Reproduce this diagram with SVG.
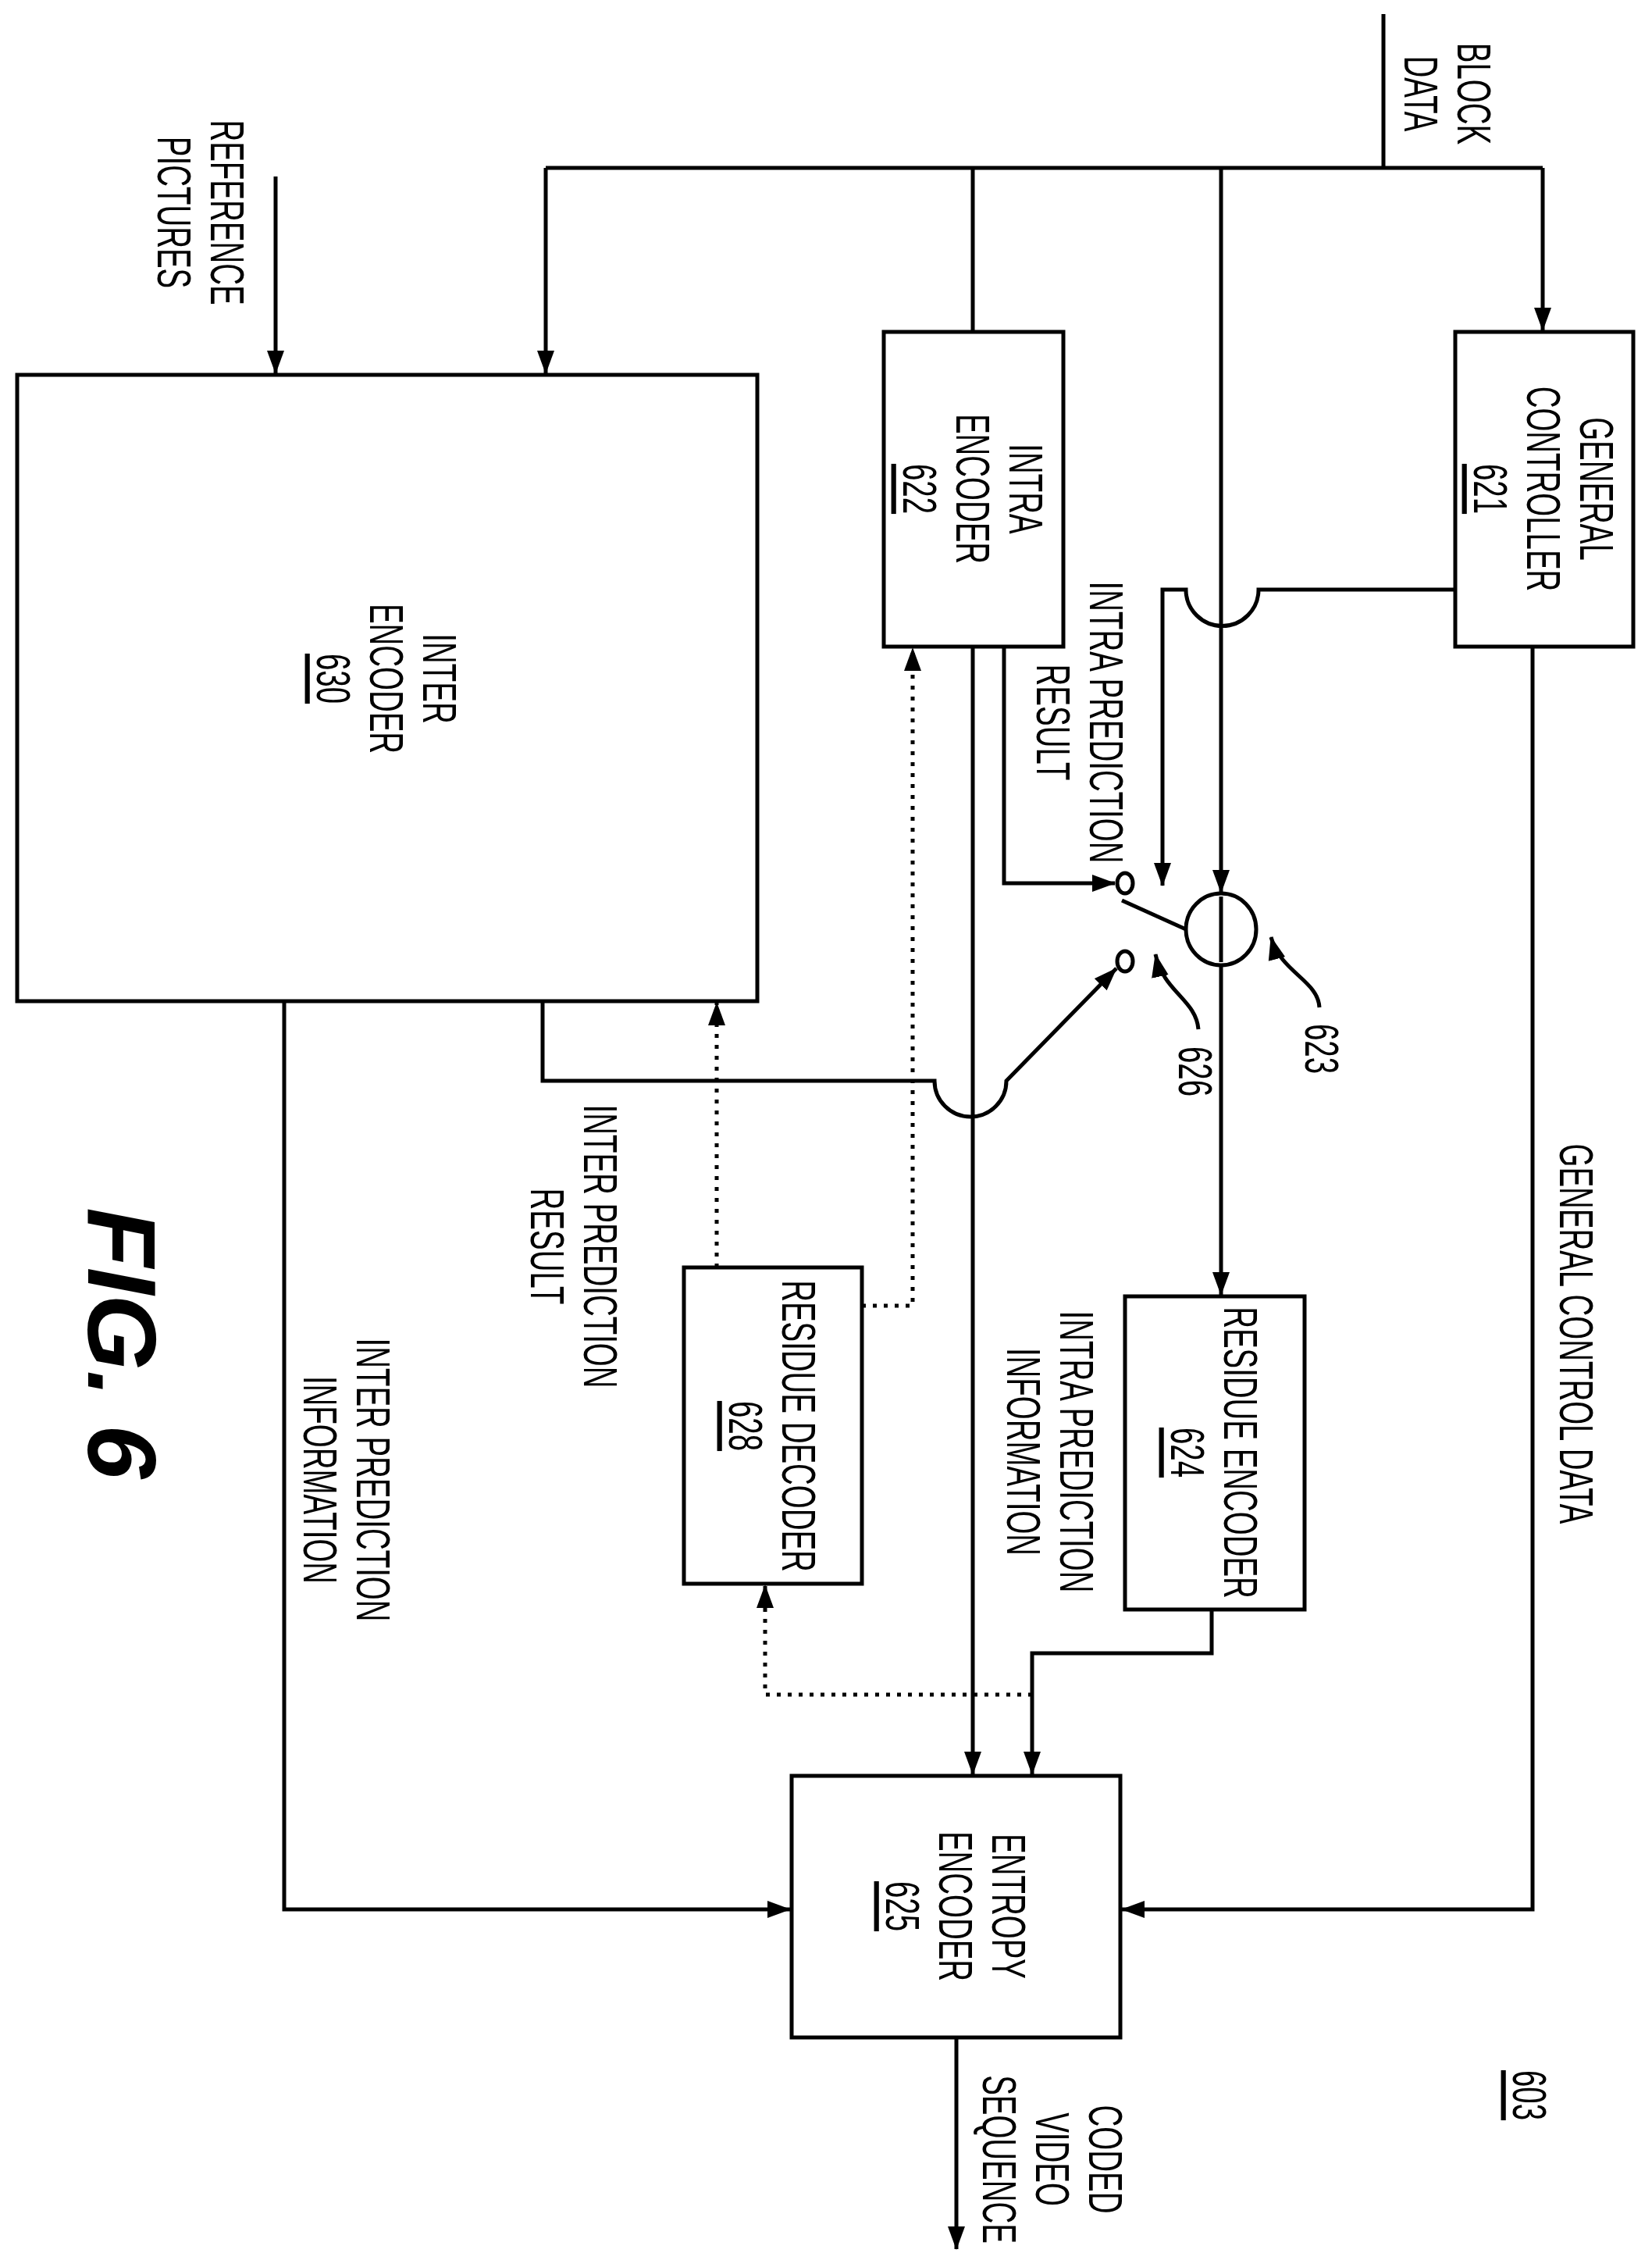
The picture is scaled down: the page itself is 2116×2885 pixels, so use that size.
<svg xmlns="http://www.w3.org/2000/svg" width="2116" height="2885" viewBox="0 0 2116 2885">
<style>
.b{fill:none;stroke:#000;stroke-width:5}
.l{fill:none;stroke:#000;stroke-width:5}
.d{fill:none;stroke:#000;stroke-width:5;stroke-dasharray:5 9}
.a{marker-end:url(#ar)}
text{font-family:"Liberation Sans",Arial,sans-serif;font-size:62px;fill:#000;text-anchor:middle;dominant-baseline:central}
.u{text-decoration:underline}
</style>
<defs>
<marker id="ar" markerWidth="12" markerHeight="10" refX="11" refY="5" orient="auto" markerUnits="userSpaceOnUse" viewBox="0 0 12 10">
</marker>
<marker id="ah" viewBox="0 0 30 22" refX="29" refY="11" markerWidth="30" markerHeight="22" orient="auto" markerUnits="userSpaceOnUse"><path d="M0,0 L30,11 L0,22 Z" fill="#000"/></marker>
</defs>
<g id="connectors">
<path class="l" d="M1772 18 V215 M699 215 H1976"/>
<path class="l" d="M699 215 V478" marker-end="url(#ah)"/>
<path class="l" d="M1976 215 V423" marker-end="url(#ah)"/>
<path class="l" d="M1246 215 V425"/>
<path class="l" d="M353 226 V478" marker-end="url(#ah)"/>
<path class="l" d="M1564 215 V1143" marker-end="url(#ah)"/>
<path class="l" d="M1564 1235 V1658" marker-end="url(#ah)"/>
<path class="l" d="M1864 755 H1612 A46 46 0 0 1 1519 755 H1489 V1134" marker-end="url(#ah)"/>
<path class="l" d="M1286 828 V1131 H1428" marker-end="url(#ah)"/>
<ellipse class="l" cx="1441" cy="1131" rx="10" ry="13"/>
<ellipse class="l" cx="1441" cy="1231" rx="10" ry="13"/>
<path class="l" d="M1437 1153 L1519 1190"/>
<ellipse class="l" cx="1564" cy="1190" rx="45" ry="46"/>
<path class="l" d="M1564 1148 V1232"/>
<path class="l" d="M1246 828 V2272" marker-end="url(#ah)"/>
<path class="l" d="M695 1282 V1384 H1197 A46 46 0 0 0 1289 1384 L1430 1240" marker-end="url(#ah)"/>
<path class="d" d="M918 1623 V1284" marker-end="url(#ah)"/>
<path class="d" d="M1104 1672 H1169 V830" marker-end="url(#ah)"/>
<path class="l" d="M1552 2061 V2117 H1322 V2272" marker-end="url(#ah)"/>
<path class="d" d="M1322 2170 H980 V2030" marker-end="url(#ah)"/>
<path class="l" d="M364 1282 V2445 H1012" marker-end="url(#ah)"/>
<path class="l" d="M1963 828 V2445 H1437" marker-end="url(#ah)"/>
<path class="l" d="M1225 2609 V2880" marker-end="url(#ah)"/>
<path class="l" d="M1690 1290 C1688 1255 1640 1245 1628 1200" marker-end="url(#ah)"/>
<path class="l" d="M1535 1318 C1532 1280 1490 1270 1480 1222" marker-end="url(#ah)"/>
</g>
<g id="inter"><rect class="b" x="22" y="480" width="948" height="802"/>
<text transform="translate(496,869) rotate(90) scale(0.62,1)"><tspan x="0" y="-68">INTER</tspan><tspan x="0" y="0">ENCODER</tspan><tspan x="0" y="68" class="u">630</tspan></text></g>
<g id="intra"><rect class="b" x="1132" y="425" width="230" height="403"/>
<text transform="translate(1247,626) rotate(90) scale(0.62,1)"><tspan x="0" y="-68">INTRA</tspan><tspan x="0" y="0">ENCODER</tspan><tspan x="0" y="68" class="u">622</tspan></text></g>
<g id="gc"><rect class="b" x="1864" y="425" width="228" height="403"/>
<text transform="translate(1978,626) rotate(90) scale(0.62,1)"><tspan x="0" y="-68">GENERAL</tspan><tspan x="0" y="0">CONTROLLER</tspan><tspan x="0" y="68" class="u">621</tspan></text></g>
<g id="resenc"><rect class="b" x="1441" y="1660" width="230" height="401"/>
<text transform="translate(1556,1860) rotate(90) scale(0.62,1)"><tspan x="0" y="-34">RESIDUE ENCODER</tspan><tspan x="0" y="34" class="u">624</tspan></text></g>
<g id="resdec"><rect class="b" x="876" y="1623" width="228" height="405"/>
<text transform="translate(990,1826) rotate(90) scale(0.62,1)"><tspan x="0" y="-34">RESIDUE DECODER</tspan><tspan x="0" y="34" class="u">628</tspan></text></g>
<g id="entropy"><rect class="b" x="1014" y="2274" width="421" height="335"/>
<text transform="translate(1225,2441) rotate(90) scale(0.62,1)"><tspan x="0" y="-68">ENTROPY</tspan><tspan x="0" y="0">ENCODER</tspan><tspan x="0" y="68" class="u">625</tspan></text></g>
<g id="labels">
<text transform="translate(1855,120) rotate(90) scale(0.62,1)"><tspan x="0" y="-34">BLOCK</tspan><tspan x="0" y="34">DATA</tspan></text>
<text transform="translate(258,272) rotate(90) scale(0.62,1)"><tspan x="0" y="-34">REFERENCE</tspan><tspan x="0" y="34">PICTURES</tspan></text>
<text transform="translate(1384,925) rotate(90) scale(0.62,1)"><tspan x="0" y="-34">INTRA PREDICTION</tspan><tspan x="0" y="34">RESULT</tspan></text>
<text transform="translate(1694,1343) rotate(90) scale(0.62,1)">623</text>
<text transform="translate(1532,1372) rotate(90) scale(0.62,1)">626</text>
<text transform="translate(2020,1708) rotate(90) scale(0.62,1)">GENERAL CONTROL DATA</text>
<text transform="translate(736,1596) rotate(90) scale(0.62,1)"><tspan x="0" y="-34">INTER PREDICTION</tspan><tspan x="0" y="34">RESULT</tspan></text>
<text transform="translate(1346,1859) rotate(90) scale(0.62,1)"><tspan x="0" y="-34">INTRA PREDICTION</tspan><tspan x="0" y="34">INFORMATION</tspan></text>
<text transform="translate(445,1895) rotate(90) scale(0.62,1)"><tspan x="0" y="-34">INTER PREDICTION</tspan><tspan x="0" y="34">INFORMATION</tspan></text>
<text transform="translate(1349,2765) rotate(90) scale(0.62,1)"><tspan x="0" y="-68">CODED</tspan><tspan x="0" y="0">VIDEO</tspan><tspan x="0" y="68">SEQUENCE</tspan></text>
<text class="u" transform="translate(1960,2683) rotate(90) scale(0.62,1)">603</text>
<text transform="translate(156,1720) rotate(90)" style="font-size:125px;font-weight:bold;font-style:italic">FIG. 6</text>
</g>
</svg>
